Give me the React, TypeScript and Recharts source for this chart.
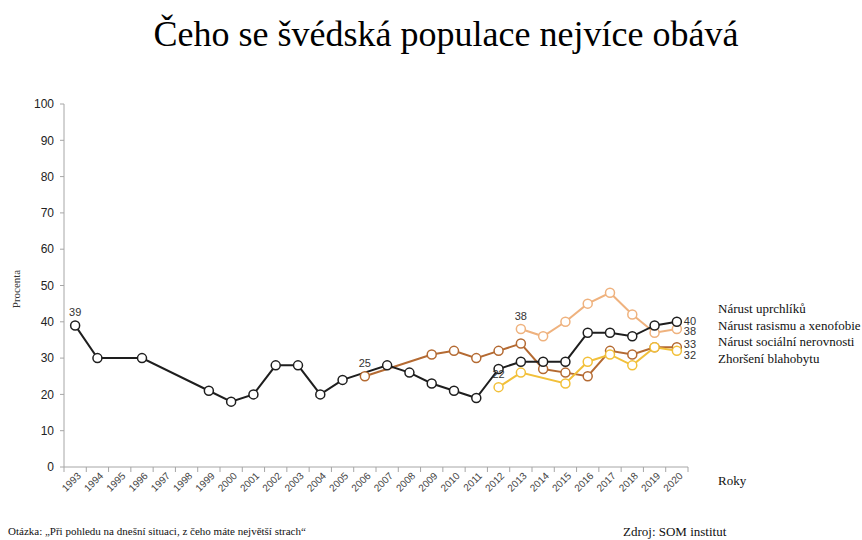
import { LabelList, Line, LineChart, XAxis, YAxis } from "recharts";

const years = [
  1993, 1994, 1995, 1996, 1997, 1998, 1999, 2000, 2001, 2002, 2003, 2004, 2005, 2006,
  2007, 2008, 2009, 2010, 2011, 2012, 2013, 2014, 2015, 2016, 2017, 2018, 2019, 2020,
];

// Nárust uprchlíků
const refugees = [
  39, 30, null, 30, null, null, 21, 18, 20, 28, 28, 20, 24, null,
  28, 26, 23, 21, 19, 27, 29, 29, 29, 37, 37, 36, 39, 40,
];
// Nárust rasismu a xenofobie
const racism = [
  null, null, null, null, null, null, null, null, null, null, null, null, null, null,
  null, null, null, null, null, null, 38, 36, 40, 45, 48, 42, 37, 38,
];
// Nárust sociální nerovnosti
const inequality = [
  null, null, null, null, null, null, null, null, null, null, null, null, null, 25,
  null, null, 31, 32, 30, 32, 34, 27, 26, 25, 32, 31, 33, 33,
];
// Zhoršení blahobytu
const welfare = [
  null, null, null, null, null, null, null, null, null, null, null, null, null, null,
  null, null, null, null, null, 22, 26, null, 23, 29, 31, 28, 33, 32,
];

const yTicks = [0, 10, 20, 30, 40, 50, 60, 70, 80, 90, 100];
const legendNames = [
  "Nárust uprchlíků",
  "Nárust rasismu a xenofobie",
  "Nárust sociální nerovnosti",
  "Zhoršení blahobytu",
];

const data = years.map((year, i) => ({
  year,
  refugees: refugees[i],
  racism: racism[i],
  inequality: inequality[i],
  welfare: welfare[i],
}));

const xDomain = [years[0] - 0.5, years[years.length - 1] + 0.5];

const SANS = "'Liberation Sans', Arial, sans-serif";
const SERIF = "'Liberation Serif', 'Times New Roman', serif";

const CHART_W = 862;
const MARGIN = { top: 104, right: 174, bottom: 33, left: 24 };
const Y_AXIS_W = 40;
// width of one year on the x axis; tick marks sit between the years
const BAND = (CHART_W - MARGIN.left - MARGIN.right - Y_AXIS_W) / years.length;

function YearTick(props: any) {
  const { x, y, payload, index } = props;
  const half = BAND / 2;
  return (
    <g>
      {index === 0 && <line x1={x - half} x2={x - half} y1={y - 2} y2={y + 3} stroke="#a6a6a6" />}
      <line x1={x + half} x2={x + half} y1={y - 2} y2={y + 3} stroke="#a6a6a6" />
      <text
        x={x + 4}
        y={y + 5}
        transform={`rotate(-45 ${x + 4} ${y + 5})`}
        textAnchor="end"
        dominantBaseline="central"
        fontSize={10}
        fill="#444"
        fontFamily={SANS}
      >
        {payload.value}
      </text>
    </g>
  );
}

function endLabels(values: (number | null)[], endDy: number) {
  const first = values.findIndex((v) => v != null);
  const last = values.length - 1;
  return (props: any) => {
    const { x, y, index, value } = props;
    if (value == null || x == null || y == null) return null;
    if (index === first) {
      return (
        <text x={x} y={y - 13} textAnchor="middle" dominantBaseline="central" fontSize={11} fill="#333" fontFamily={SANS}>
          {value}
        </text>
      );
    }
    if (index === last) {
      return (
        <text x={x + 7} y={y + endDy} textAnchor="start" dominantBaseline="central" fontSize={11} fill="#333" fontFamily={SANS}>
          {value}
        </text>
      );
    }
    return null;
  };
}

function series(key: string, values: (number | null)[], color: string, width: number, endDy: number) {
  return (
    <Line
      type="linear"
      dataKey={key}
      stroke={color}
      strokeWidth={width}
      connectNulls
      dot={{ r: 4.5, fill: "#fff", stroke: color, strokeWidth: 1.5 }}
      activeDot={false}
      isAnimationActive={false}
    >
      <LabelList dataKey={key} content={endLabels(values, endDy)} />
    </Line>
  );
}

export default function App() {
  return (
    <div
      style={{
        position: "absolute",
        left: 0,
        top: 0,
        width: 862,
        height: 540,
        background: "#fff",
        fontFamily: SERIF,
      }}
    >
      <div
        style={{
          position: "absolute",
          left: 0,
          width: 892,
          top: 13,
          textAlign: "center",
          fontSize: 36,
          color: "#000",
          fontFamily: SERIF,
        }}
      >
        Čeho se švédská populace nejvíce obává
      </div>

      <LineChart width={CHART_W} height={540} data={data} margin={MARGIN}>
        <XAxis
          type="number"
          dataKey="year"
          domain={xDomain}
          ticks={years}
          interval={0}
          axisLine={{ stroke: "#a6a6a6" }}
          tickLine={false}
          tickSize={0}
          tickMargin={2}
          height={40}
          tick={<YearTick />}
        />
        <YAxis
          type="number"
          domain={[0, 100]}
          ticks={yTicks}
          width={Y_AXIS_W}
          tickSize={4}
          tickMargin={6}
          axisLine={{ stroke: "#a6a6a6" }}
          tickLine={{ stroke: "#a6a6a6" }}
          tick={{ fontSize: 12, fill: "#222", fontFamily: SANS }}
        />
        {series("racism", racism, "#efb27e", 2, 2)}
        {series("inequality", inequality, "#b46a32", 2, -3)}
        {series("welfare", welfare, "#f2c03a", 2, 4)}
        {series("refugees", refugees, "#1e1e1e", 2, -1)}
      </LineChart>

      <div
        style={{
          position: "absolute",
          left: 16,
          top: 289,
          transform: "translate(-50%, -50%) rotate(-90deg)",
          fontSize: 11,
          color: "#333",
          whiteSpace: "nowrap",
        }}
      >
        Procenta
      </div>

      {legendNames.map((name, i) => (
        <div
          key={name}
          style={{
            position: "absolute",
            left: 718,
            top: 301 + i * 16.7,
            fontSize: 13,
            color: "#111",
            whiteSpace: "nowrap",
          }}
        >
          {name}
        </div>
      ))}

      <div style={{ position: "absolute", left: 718, top: 473, fontSize: 13, color: "#111" }}>Roky</div>

      <div style={{ position: "absolute", left: 8, top: 525, fontSize: 11, color: "#111", whiteSpace: "nowrap" }}>
        Otázka: „Při pohledu na dnešní situaci, z čeho máte největší strach“
      </div>
      <div style={{ position: "absolute", left: 623, top: 524, fontSize: 13, color: "#111", whiteSpace: "nowrap" }}>
        Zdroj: SOM institut
      </div>
    </div>
  );
}
